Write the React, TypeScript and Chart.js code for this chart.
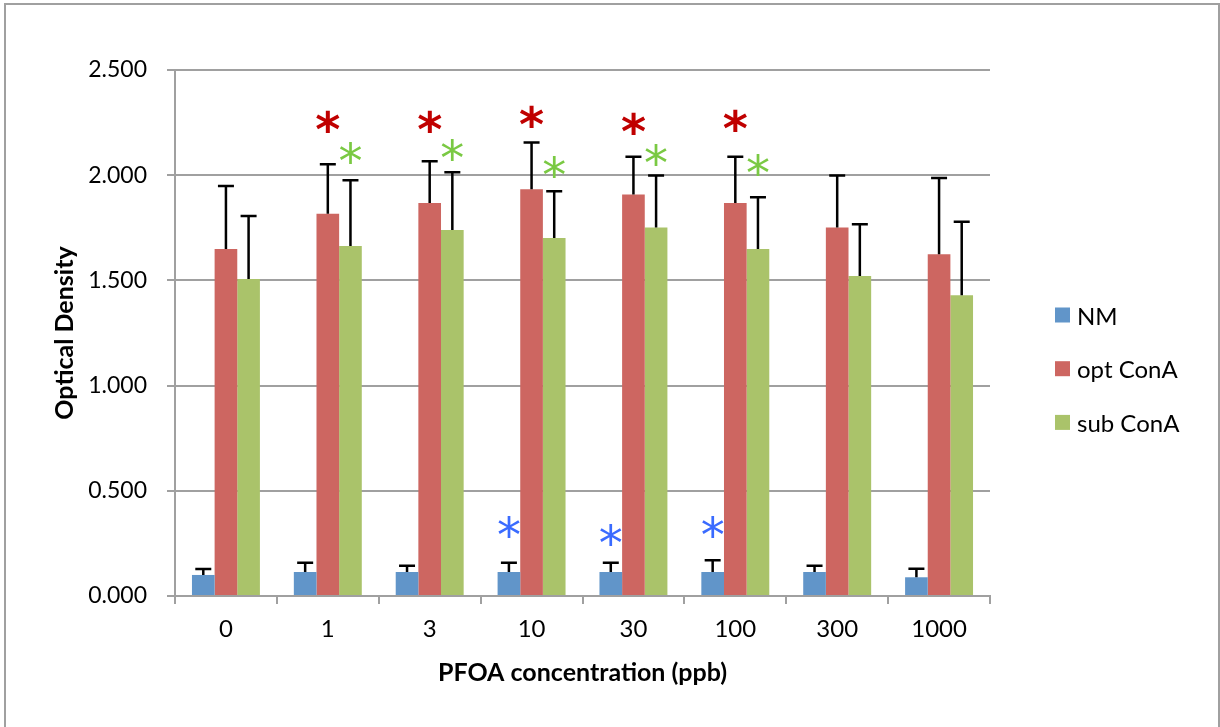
import { useEffect, useRef } from "react";
import { Chart, registerables } from "chart.js";

Chart.register(...registerables);

// PFOA concentrations (ppb) on the category axis
const concentrations = ["0", "1", "3", "10", "30", "100", "300", "1000"];

// Mean optical density per treatment
const nmMeans = [0.1, 0.114, 0.114, 0.114, 0.114, 0.114, 0.114, 0.089];
const optMeans = [1.649, 1.817, 1.868, 1.933, 1.908, 1.868, 1.752, 1.624];
const subMeans = [1.507, 1.663, 1.74, 1.702, 1.752, 1.649, 1.521, 1.429];

// Upper end of each error bar (mean + error)
const nmUpper = [0.128, 0.158, 0.144, 0.158, 0.158, 0.17, 0.144, 0.13];
const optUpper = [1.949, 2.052, 2.066, 2.156, 2.088, 2.088, 1.998, 1.987];
const subUpper = [1.806, 1.976, 2.014, 1.924, 1.998, 1.895, 1.767, 1.779];

// Height at which a significance "*" sits (null = no marker)
const nmStars = [null, null, null, 0.328, 0.29, 0.329, null, null];
const optStars = [null, 2.254, 2.254, 2.278, 2.248, 2.262, null, null];
const subStars = [null, 2.106, 2.12, 2.04, 2.096, 2.048, null, null];

// Value axis range
const yMin = 0;
const yMax = 2.5;
const yStep = 0.5;

const FONT = "Lato, 'Open Sans', 'DejaVu Sans', sans-serif";
const GRID = "#A0A0A0";

const frame = {
  id: "frame",
  beforeDraw(chart: any) {
    const { ctx, width, height } = chart;
    ctx.save();
    ctx.fillStyle = "#ffffff";
    ctx.fillRect(0, 0, width, height);
    ctx.strokeStyle = GRID;
    ctx.lineWidth = 2;
    ctx.strokeRect(5, 4, width - 6, height + 20);
    ctx.restore();
  },
};

const errorBarsAndStars = {
  id: "errorBarsAndStars",
  afterDatasetsDraw(chart: any) {
    const { ctx } = chart;
    const yScale = chart.scales.y;
    ctx.save();
    chart.data.datasets.forEach((ds: any, di: number) => {
      const meta = chart.getDatasetMeta(di);
      meta.data.forEach((bar: any, i: number) => {
        const top = yScale.getPixelForValue(ds.upper[i]);
        ctx.strokeStyle = "#000000";
        ctx.lineWidth = 2.5;
        ctx.beginPath();
        ctx.moveTo(bar.x, bar.y);
        ctx.lineTo(bar.x, top);
        ctx.moveTo(bar.x - 8, top);
        ctx.lineTo(bar.x + 8, top);
        ctx.stroke();

        const s = ds.stars[i];
        if (s !== null && s !== undefined) {
          const cy = yScale.getPixelForValue(s);
          ctx.font = `${ds.starWeight} 48px 'DejaVu Sans', sans-serif`;
          const m = ctx.measureText("*");
          const asc = m.actualBoundingBoxAscent;
          const desc = m.actualBoundingBoxDescent;
          ctx.fillStyle = ds.starColor;
          ctx.textAlign = "center";
          ctx.textBaseline = "alphabetic";
          ctx.fillText("*", bar.x, cy + (asc - desc) / 2);
        }
      });
    });
    ctx.restore();
  },
};

const sideLegend = {
  id: "sideLegend",
  afterDraw(chart: any) {
    const { ctx } = chart;
    ctx.save();
    ctx.font = `24px ${FONT}`;
    ctx.textAlign = "left";
    ctx.textBaseline = "middle";
    chart.data.datasets.forEach((ds: any, i: number) => {
      const cy = 315 + i * 53.7;
      ctx.fillStyle = ds.backgroundColor;
      ctx.fillRect(1055, cy - 7.5, 15, 15);
      ctx.fillStyle = "#000000";
      ctx.fillText(ds.label, 1077, cy + 2);
    });
    ctx.restore();
  },
};

export default function App() {
  const canvasRef = useRef<HTMLCanvasElement | null>(null);

  useEffect(() => {
    const canvas = canvasRef.current;
    if (!canvas) return;
    Chart.defaults.font.family = FONT;
    Chart.defaults.color = "#000000";

    const chart = new Chart(canvas, {
      type: "bar",
      data: {
        labels: concentrations,
        datasets: [
          {
            label: "NM",
            data: nmMeans,
            backgroundColor: "#6195C9",
            upper: nmUpper,
            stars: nmStars,
            starColor: "#3A6BFF",
            starWeight: "normal",
          } as any,
          {
            label: "opt ConA",
            data: optMeans,
            backgroundColor: "#CD6661",
            upper: optUpper,
            stars: optStars,
            starColor: "#C00000",
            starWeight: "bold",
          } as any,
          {
            label: "sub ConA",
            data: subMeans,
            backgroundColor: "#AAC36A",
            upper: subUpper,
            stars: subStars,
            starColor: "#7AC943",
            starWeight: "normal",
          } as any,
        ],
      },
      options: {
        responsive: false,
        animation: false,
        layout: { padding: { left: 40, top: 70, right: 230, bottom: 0 } },
        datasets: {
          bar: { categoryPercentage: 0.667, barPercentage: 1.0 },
        },
        plugins: {
          legend: { display: false },
          tooltip: { enabled: false },
        },
        scales: {
          x: {
            grid: {
              display: true,
              drawOnChartArea: false,
              drawTicks: true,
              tickLength: 8,
              color: GRID,
              lineWidth: 2,
              offset: true,
            },
            border: { color: GRID, width: 2 },
            ticks: { font: { size: 24 }, padding: 11, color: "#000" },
            title: {
              display: true,
              text: "PFOA concentration (ppb)",
              font: { size: 25, weight: "bold" },
              color: "#000",
              padding: { top: 0, bottom: 39 },
            },
            afterFit(scale: any) {
              scale.height = 131;
            },
          },
          y: {
            min: yMin,
            max: yMax,
            ticks: {
              stepSize: yStep,
              font: { size: 23 },
              padding: 20,
              color: "#000",
              callback: (v: any) => Number(v).toFixed(3),
            },
            grid: { color: GRID, lineWidth: 2, tickLength: 8 },
            border: { color: GRID, width: 2 },
            title: {
              display: true,
              text: "Optical Density",
              font: { size: 25, weight: "bold" },
              color: "#000",
              padding: { top: 10, bottom: 0 },
            },
            afterFit(scale: any) {
              scale.width = 135;
            },
          },
        },
      },
      plugins: [frame, errorBarsAndStars, sideLegend],
    });
    return () => chart.destroy();
  }, []);

  return (
    <div style={{ position: "fixed", left: 0, top: 0, width: 1220, height: 727 }}>
      <canvas ref={canvasRef} width={1220} height={727} style={{ display: "block" }} />
    </div>
  );
}
